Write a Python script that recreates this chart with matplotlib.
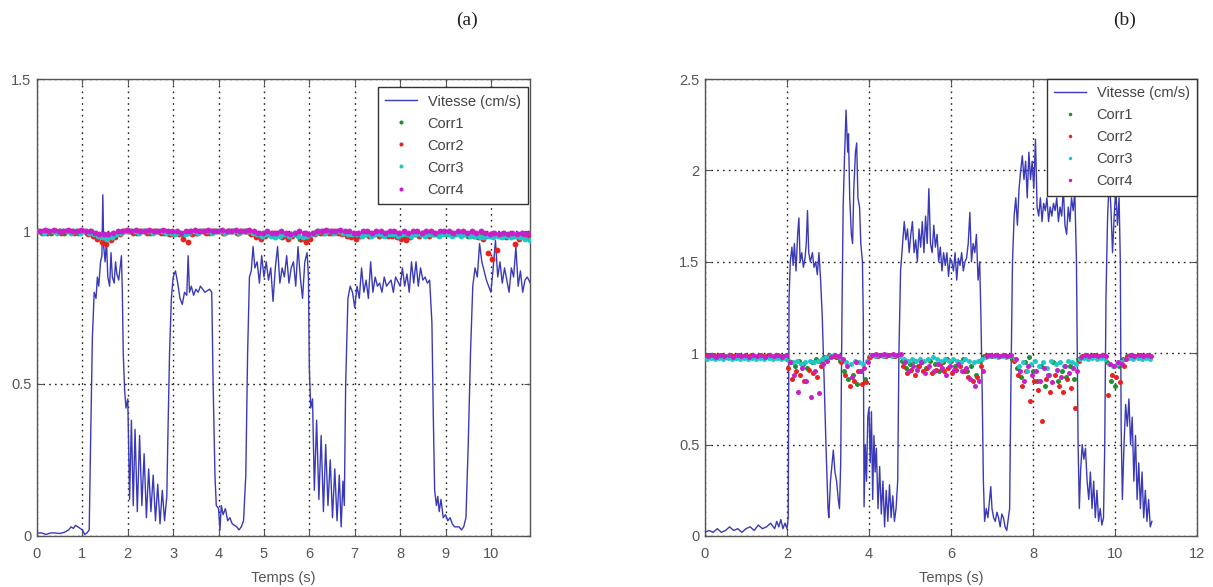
import numpy as np
import matplotlib
matplotlib.use("Agg")
import matplotlib.pyplot as plt

plt.rcParams['font.family'] = ['Liberation Sans', 'DejaVu Sans']

# ---------------- Panel (a) data ----------------
vit_a_t = [0, 0.1, 0.2, 0.3, 0.4, 0.5, 0.6, 0.7, 0.75, 0.8, 0.85, 0.9, 0.95, 1.0, 1.05, 1.1, 1.15,
           1.18, 1.22, 1.26, 1.3, 1.33, 1.36, 1.4, 1.43, 1.45, 1.47, 1.5, 1.53, 1.56, 1.6, 1.63, 1.66,
           1.7, 1.73, 1.76, 1.8, 1.83, 1.86, 1.88, 1.9, 1.93, 1.96,
           2.0, 2.04, 2.08, 2.12, 2.16, 2.21, 2.26, 2.31, 2.36, 2.41, 2.46, 2.51, 2.56, 2.61, 2.66,
           2.71, 2.76, 2.81, 2.86,
           2.88, 2.92, 2.96, 3.0, 3.05, 3.1, 3.15, 3.2, 3.25, 3.3, 3.33, 3.36, 3.4, 3.45, 3.5, 3.55,
           3.6, 3.7, 3.8, 3.85,
           3.88, 3.92, 3.95, 4.0, 4.03, 4.06, 4.1, 4.15, 4.2, 4.25, 4.3, 4.4, 4.45, 4.5, 4.55,
           4.6, 4.64, 4.68, 4.72, 4.76, 4.8, 4.85, 4.9, 4.95, 5.0, 5.05, 5.1, 5.15, 5.2, 5.25, 5.3,
           5.35, 5.4, 5.45, 5.5, 5.55, 5.6, 5.65, 5.7, 5.75, 5.8, 5.85, 5.9, 5.95, 5.98,
           6.0, 6.03, 6.07, 6.11, 6.16, 6.21, 6.26, 6.31, 6.36, 6.41, 6.46, 6.51, 6.56, 6.61, 6.66,
           6.7, 6.74, 6.77,
           6.8, 6.85, 6.9, 6.95, 7.0, 7.05, 7.1, 7.15, 7.2, 7.25, 7.3, 7.35, 7.4, 7.45, 7.5, 7.55,
           7.6, 7.65, 7.7, 7.8, 7.85, 7.9, 8.0, 8.05, 8.1, 8.15, 8.2, 8.25, 8.3, 8.35, 8.4, 8.45,
           8.5, 8.55, 8.6, 8.65,
           8.7, 8.73, 8.76, 8.8, 8.83, 8.86, 8.9, 8.95, 9.0, 9.05, 9.1, 9.15, 9.2, 9.3, 9.35, 9.4, 9.45,
           9.5, 9.55, 9.6, 9.65, 9.7, 9.75, 9.8, 9.85, 9.9, 9.95, 10.0, 10.05, 10.1, 10.15, 10.2,
           10.25, 10.3, 10.35, 10.4, 10.45, 10.5, 10.55, 10.6, 10.65, 10.7, 10.75, 10.8, 10.87]
vit_a_v = [0.01, 0.01, 0.005, 0.01, 0.01, 0.008, 0.012, 0.02, 0.03, 0.025, 0.035, 0.03, 0.025, 0.02, 0.005, 0.01, 0.02,
           0.3, 0.65, 0.8, 0.78, 0.85, 0.82, 0.9, 0.92, 1.12, 0.95, 0.9, 0.97, 0.85, 0.82, 0.93, 0.85,
           0.83, 0.9, 0.86, 0.84, 0.88, 0.92, 0.8, 0.6, 0.48, 0.42,
           0.45, 0.12, 0.38, 0.1, 0.35, 0.08, 0.33, 0.1, 0.27, 0.06, 0.22, 0.08, 0.2, 0.05, 0.17,
           0.04, 0.15, 0.05, 0.13,
           0.3, 0.6, 0.78, 0.85, 0.87, 0.83, 0.78, 0.76, 0.8, 0.79, 0.92, 0.8, 0.82, 0.79, 0.81, 0.8,
           0.82, 0.8, 0.81, 0.8,
           0.5, 0.2, 0.1, 0.09, 0.02, 0.1, 0.07, 0.09, 0.05, 0.06, 0.04, 0.03, 0.02, 0.03, 0.05,
           0.2, 0.6, 0.85, 0.87, 0.95, 0.88, 0.9, 0.83, 0.92, 0.85, 0.9, 0.84, 0.88, 0.77, 0.88, 0.95,
           0.83, 0.88, 0.85, 0.92, 0.83, 0.88, 0.9, 0.82, 0.95, 0.85, 0.78, 0.9, 0.93, 0.85,
           0.55, 0.42, 0.45, 0.15, 0.38, 0.12, 0.33, 0.08, 0.3, 0.1, 0.25, 0.06, 0.22, 0.05, 0.2,
           0.03, 0.18, 0.1,
           0.5, 0.78, 0.82, 0.8, 0.75, 0.82, 0.78, 0.88, 0.8, 0.84, 0.78, 0.9, 0.8, 0.85, 0.82, 0.83,
           0.8, 0.85, 0.82, 0.84, 0.8, 0.85, 0.82, 0.88, 0.82, 0.86, 0.8, 0.9, 0.83, 0.9, 0.82, 0.88,
           0.84, 0.85, 0.83, 0.84,
           0.7, 0.4, 0.15, 0.1, 0.13, 0.08, 0.12, 0.06, 0.07, 0.05, 0.06, 0.04, 0.03, 0.03, 0.02, 0.03, 0.06,
           0.3, 0.6, 0.82, 0.88, 0.85, 0.96, 0.9, 0.87, 0.84, 0.82, 0.8, 0.88, 0.97, 0.85, 0.9,
           0.83, 0.88, 0.84, 0.8, 0.88, 0.85, 0.95, 0.82, 0.87, 0.8, 0.84, 0.85, 0.83]

corr_a_t = np.arange(0, 10.85, 0.1)   # sampling grid, 109 samples
corr1_a = [1.00, 0.995, 1.00, 0.995, 1.00, 1.00, 0.995, 1.00, 1.00, 0.995,
           1.00, 0.995, 1.00, 0.99, 0.985, 0.98, 0.985, 0.99, 0.995, 1.00,
           1.00, 1.00, 0.995, 1.00, 1.00, 0.995, 1.00, 1.00, 0.995, 0.99,
           0.99, 0.995, 0.99, 0.995, 1.00, 0.995, 1.00, 1.00, 0.995, 1.00,
           1.00, 0.995, 1.00, 1.00, 0.995, 1.00, 1.00, 0.995, 0.99, 0.99,
           0.995, 0.99, 0.99, 0.995, 0.98, 0.985, 0.99, 0.99, 0.975, 0.975,
           0.985, 0.995, 1.00, 0.995, 1.00, 0.995, 1.00, 0.995, 0.99, 0.99,
           0.985, 0.99, 0.995, 0.99, 0.99, 0.995, 0.99, 0.995, 0.99, 0.995,
           0.99, 0.985, 0.99, 0.995, 0.99, 0.995, 0.99, 0.995, 0.99, 0.995,
           0.99, 0.995, 0.99, 0.995, 0.99, 0.985, 0.99, 0.985, 0.99, 0.985,
           0.985, 0.99, 0.985, 0.99, 0.99, 0.985, 0.99, 0.985, 0.99]
corr2_a = [1.00, 1.00, 0.995, 1.00, 1.00, 0.995, 1.00, 1.00, 0.995, 1.00,
           1.00, 0.99, 0.985, 0.975, 0.965, 0.96, 0.97, 0.98, 0.99, 1.00,
           1.00, 0.995, 1.00, 1.00, 0.995, 1.00, 1.00, 0.995, 1.00, 0.99,
           0.995, 0.99, 0.975, 0.965, 0.99, 0.995, 1.00, 0.995, 1.00, 1.00,
           1.00, 0.995, 1.00, 1.00, 0.995, 1.00, 1.00, 0.99, 0.98, 0.975,
           0.985, 0.99, 0.995, 0.99, 0.985, 0.975, 0.985, 0.99, 0.975, 0.965,
           0.975, 0.99, 0.995, 1.00, 0.995, 1.00, 0.995, 0.99, 0.985, 0.98,
           0.975, 0.985, 0.99, 0.985, 0.99, 0.985, 0.99, 0.985, 0.985, 0.98,
           0.975, 0.97, 0.98, 0.99, 0.985, 0.99, 0.985, 0.99, 0.99, 0.995,
           0.995, 0.99, 0.995, 0.99, 0.995, 0.99, 0.985, 0.98, 0.975, 0.93,
           0.91, 0.94, 0.985, 0.98, 0.985, 0.96, 0.975, 0.99, 0.985]
corr3_a = [1.00, 0.995, 1.00, 1.00, 0.995, 1.00, 1.00, 0.995, 1.00, 0.995,
           1.00, 0.995, 0.99, 0.985, 0.98, 0.975, 0.98, 0.99, 0.995, 1.00,
           1.00, 1.00, 0.995, 1.00, 1.00, 0.995, 1.00, 1.00, 0.995, 0.995,
           0.99, 0.995, 0.99, 0.995, 1.00, 0.995, 1.00, 1.00, 0.995, 1.00,
           1.00, 0.995, 1.00, 1.00, 0.995, 1.00, 1.00, 0.995, 0.99, 0.985,
           0.99, 0.985, 0.98, 0.985, 0.99, 0.985, 0.99, 0.985, 0.98, 0.985,
           0.99, 0.995, 1.00, 0.995, 1.00, 0.995, 1.00, 0.995, 0.99, 0.99,
           0.99, 0.985, 0.99, 0.985, 0.99, 0.99, 0.985, 0.99, 0.99, 0.985,
           0.99, 0.99, 0.985, 0.99, 0.99, 0.985, 0.99, 0.99, 0.985, 0.99,
           0.99, 0.985, 0.99, 0.985, 0.99, 0.985, 0.985, 0.98, 0.98, 0.985,
           0.98, 0.985, 0.98, 0.985, 0.98, 0.985, 0.98, 0.975, 0.97]
corr4_a = [1.00, 1.005, 1.00, 1.005, 1.00, 1.00, 1.005, 1.00, 1.00, 1.005,
           1.00, 1.00, 0.995, 0.99, 0.99, 0.99, 0.995, 1.00, 1.00, 1.005,
           1.00, 1.005, 1.00, 1.00, 1.005, 1.00, 1.00, 1.005, 1.00, 1.00,
           1.00, 0.995, 1.00, 1.00, 1.005, 1.00, 1.00, 1.005, 1.00, 1.00,
           1.005, 1.00, 1.00, 1.005, 1.00, 1.00, 1.005, 1.00, 0.995, 0.995,
           1.00, 0.995, 0.995, 1.00, 0.995, 0.99, 0.995, 1.00, 0.995, 0.99,
           0.995, 1.00, 1.00, 1.005, 1.00, 1.00, 1.005, 1.00, 1.00, 0.995,
           0.995, 1.00, 1.00, 0.995, 1.00, 1.00, 0.995, 1.00, 1.00, 0.995,
           1.00, 0.995, 1.00, 1.00, 0.995, 1.00, 1.00, 0.995, 1.00, 1.00,
           1.00, 0.995, 1.00, 1.00, 0.995, 1.00, 0.995, 1.00, 0.995, 0.99,
           0.995, 0.99, 0.995, 0.99, 0.995, 0.99, 0.995, 0.99, 0.995]

# ---------------- Panel (b) data ----------------
vit_b_t = [0, 0.1, 0.2, 0.3, 0.4, 0.5, 0.6, 0.7, 0.8, 0.9, 1.0, 1.1, 1.2, 1.3, 1.4, 1.5, 1.6, 1.7,
           1.75, 1.8, 1.85, 1.9, 1.95, 2.0, 2.03, 2.05, 2.08, 2.12, 2.15, 2.18, 2.22, 2.26, 2.29,
           2.32, 2.36, 2.4, 2.44, 2.47, 2.5, 2.53, 2.57, 2.62, 2.66, 2.7, 2.74, 2.78, 2.82, 2.86,
           2.9, 2.95, 3.0, 3.02, 3.06, 3.1, 3.13, 3.17, 3.21, 3.25, 3.28, 3.31, 3.34, 3.37, 3.4,
           3.44, 3.48, 3.5, 3.53, 3.57, 3.6, 3.63, 3.67, 3.7, 3.73, 3.77, 3.8, 3.84, 3.86, 3.88,
           3.91, 3.94, 3.97, 4.0, 4.03, 4.06, 4.09, 4.12, 4.15, 4.18, 4.22, 4.26, 4.3, 4.34, 4.38,
           4.42, 4.46, 4.5, 4.54, 4.58, 4.62, 4.66, 4.7, 4.73, 4.77, 4.82, 4.86, 4.9, 4.94, 4.98,
           5.02, 5.06, 5.1, 5.14, 5.18, 5.22, 5.26, 5.3, 5.34, 5.38, 5.42, 5.46, 5.5, 5.54, 5.58,
           5.62, 5.66, 5.7, 5.74, 5.78, 5.82, 5.86, 5.9, 5.94, 5.98, 6.02, 6.06, 6.1, 6.14, 6.18,
           6.22, 6.26, 6.3, 6.34, 6.38, 6.42, 6.46, 6.5, 6.54, 6.58, 6.62, 6.66, 6.7, 6.73, 6.76,
           6.79, 6.82, 6.86, 6.9, 6.94, 6.97, 7.0, 7.04, 7.08, 7.12, 7.16, 7.2, 7.24, 7.28, 7.32,
           7.36, 7.4, 7.43, 7.46, 7.5, 7.54, 7.58, 7.62, 7.66, 7.7, 7.74, 7.78, 7.82, 7.86, 7.9,
           7.94, 7.98, 8.02, 8.06, 8.1, 8.14, 8.18, 8.22, 8.26, 8.3, 8.34, 8.38, 8.42, 8.46, 8.5,
           8.54, 8.58, 8.62, 8.66, 8.7, 8.74, 8.78, 8.82, 8.86, 8.9, 8.94, 8.98, 9.02, 9.06, 9.08,
           9.1, 9.13, 9.16, 9.2, 9.24, 9.28, 9.32, 9.36, 9.4, 9.44, 9.48, 9.52, 9.56, 9.6, 9.64,
           9.68, 9.72, 9.75, 9.78, 9.82, 9.86, 9.9, 9.94, 9.98, 10.02, 10.06, 10.1, 10.13, 10.15,
           10.18, 10.22, 10.26, 10.3, 10.34, 10.38, 10.42, 10.46, 10.5, 10.54, 10.58, 10.62, 10.66,
           10.7, 10.74, 10.78, 10.82, 10.86, 10.9]
vit_b_v = [0.02, 0.03, 0.02, 0.04, 0.02, 0.03, 0.05, 0.03, 0.04, 0.02, 0.04, 0.05, 0.03, 0.06, 0.04, 0.05, 0.07, 0.04,
           0.08, 0.05, 0.09, 0.04, 0.07, 0.04, 0.1, 1.3, 1.5, 1.58, 1.48, 1.6, 1.45, 1.65, 1.74,
           1.5, 1.55, 1.47, 1.52, 1.6, 1.78, 1.55, 1.5, 1.55, 1.47, 1.5, 1.43, 1.55, 1.4, 1.2,
           0.9, 0.5, 0.15, 0.1, 0.3, 0.4, 0.47, 0.35, 0.3, 0.2, 0.15, 0.4, 1.2, 1.8, 2.05,
           2.33, 2.1, 2.2, 1.85, 1.65, 1.6, 1.9, 2.1, 2.15, 1.85, 1.8, 1.6, 1.5, 1.2, 0.16,
           0.5, 0.3, 0.65, 0.7, 0.4, 0.68, 0.2, 0.55, 0.35, 0.48, 0.15, 0.38, 0.12, 0.3, 0.05,
           0.25, 0.08, 0.28, 0.1, 0.22, 0.08, 0.15, 0.3, 1.0, 1.45, 1.6, 1.72, 1.62, 1.68, 1.55,
           1.65, 1.72, 1.55, 1.62, 1.5, 1.68, 1.58, 1.72, 1.55, 1.75, 1.6, 1.9, 1.6, 1.55, 1.7,
           1.58, 1.65, 1.5, 1.58, 1.45, 1.55, 1.48, 1.55, 1.42, 1.52, 1.5, 1.45, 1.55, 1.4, 1.52,
           1.48, 1.55, 1.45, 1.5, 1.52, 1.6, 1.77, 1.5, 1.6, 1.55, 1.65, 1.4, 1.5, 1.2, 0.8,
           0.3, 0.08, 0.15, 0.1, 0.2, 0.27, 0.15, 0.1, 0.08, 0.13, 0.1, 0.05, 0.12, 0.1, 0.05,
           0.03, 0.1, 0.15, 0.8, 1.5, 1.75, 1.85, 1.7, 1.9, 2.0, 2.08, 1.95, 2.05, 1.85, 2.1,
           1.95, 2.05, 1.9, 2.17, 1.8, 1.75, 1.85, 1.72, 1.82, 1.78, 1.85, 1.72, 1.8, 1.75, 1.82,
           1.78, 1.85, 1.72, 1.8, 1.75, 1.9, 1.7, 1.65, 1.8, 1.72, 1.85, 1.78, 1.88, 1.5, 1.0,
           0.5, 0.15, 0.35, 0.5, 0.42, 0.48, 0.3, 0.2, 0.35, 0.15, 0.3, 0.1, 0.25, 0.08, 0.15,
           0.06, 0.1, 0.5, 1.3, 1.75, 1.95, 1.8, 1.55, 1.75, 1.9, 1.7, 1.85, 1.5, 0.6,
           0.2, 0.5, 0.72, 0.6, 0.75, 0.5, 0.65, 0.3, 0.55, 0.2, 0.4, 0.15, 0.35,
           0.1, 0.25, 0.08, 0.2, 0.05, 0.08]

corr_b_t = np.arange(0, 10.85, 0.1)   # sampling grid, 109 samples
corr1_b = [0.98, 0.985, 0.98, 0.985, 0.98, 0.985, 0.98, 0.985, 0.98, 0.985,
           0.98, 0.985, 0.98, 0.985, 0.98, 0.985, 0.98, 0.985, 0.98, 0.985,
           0.97, 0.95, 0.93, 0.96, 0.94, 0.92, 0.95, 0.97, 0.96, 0.98,
           0.98, 0.985, 0.98, 0.96, 0.90, 0.86, 0.88, 0.83, 0.90, 0.86,
           0.98, 0.99, 0.985, 0.99, 0.985, 0.99, 0.985, 0.99, 0.96, 0.92,
           0.94, 0.96, 0.93, 0.95, 0.92, 0.96, 0.94, 0.90, 0.95, 0.97,
           0.96, 0.93, 0.95, 0.97, 0.90, 0.93, 0.88, 0.96, 0.985, 0.99,
           0.985, 0.99, 0.985, 0.99, 0.985, 0.97, 0.92, 0.87, 0.95, 0.98,
           0.90, 0.85, 0.93, 0.82, 0.88, 0.95, 0.85, 0.90, 0.87, 0.93,
           0.86, 0.97, 0.985, 0.99, 0.985, 0.99, 0.985, 0.99, 0.95, 0.85,
           0.82, 0.93, 0.97, 0.985, 0.99, 0.985, 0.99, 0.985, 0.99]
corr2_b = [0.99, 0.98, 0.99, 0.985, 0.99, 0.98, 0.99, 0.985, 0.99, 0.98,
           0.985, 0.99, 0.98, 0.99, 0.985, 0.99, 0.98, 0.99, 0.985, 0.98,
           0.92, 0.86, 0.90, 0.88, 0.85, 0.91, 0.89, 0.87, 0.93, 0.97,
           0.99, 0.985, 0.98, 0.95, 0.88, 0.82, 0.85, 0.90, 0.83, 0.84,
           0.98, 0.99, 0.985, 0.99, 0.985, 0.99, 0.985, 0.99, 0.93, 0.89,
           0.91, 0.88, 0.93, 0.90, 0.92, 0.89, 0.91, 0.94, 0.90, 0.92,
           0.89, 0.91, 0.93, 0.90, 0.87, 0.85, 0.87, 0.93, 0.985, 0.99,
           0.985, 0.99, 0.985, 0.99, 0.985, 0.96, 0.88, 0.82, 0.90, 0.74,
           0.85, 0.80, 0.63, 0.86, 0.79, 0.88, 0.82, 0.79, 0.86, 0.81,
           0.70, 0.96, 0.985, 0.99, 0.985, 0.99, 0.985, 0.99, 0.77, 0.88,
           0.87, 0.84, 0.93, 0.985, 0.99, 0.985, 0.99, 0.985, 0.99]
corr3_b = [0.97, 0.975, 0.97, 0.975, 0.97, 0.975, 0.97, 0.975, 0.97, 0.975,
           0.97, 0.975, 0.97, 0.975, 0.97, 0.975, 0.97, 0.975, 0.97, 0.975,
           0.96, 0.95, 0.96, 0.94, 0.95, 0.96, 0.95, 0.96, 0.97, 0.98,
           0.985, 0.99, 0.985, 0.97, 0.95, 0.94, 0.96, 0.95, 0.94, 0.96,
           0.99, 0.985, 0.99, 0.985, 0.99, 0.985, 0.99, 0.985, 0.97, 0.96,
           0.97, 0.96, 0.97, 0.96, 0.97, 0.98, 0.97, 0.96, 0.97, 0.96,
           0.97, 0.96, 0.95, 0.97, 0.96, 0.95, 0.96, 0.97, 0.98, 0.985,
           0.985, 0.98, 0.985, 0.98, 0.985, 0.97, 0.93, 0.95, 0.90, 0.94,
           0.96, 0.93, 0.95, 0.92, 0.96, 0.94, 0.95, 0.93, 0.96, 0.95,
           0.94, 0.97, 0.975, 0.97, 0.975, 0.97, 0.975, 0.97, 0.94, 0.93,
           0.94, 0.95, 0.97, 0.975, 0.97, 0.975, 0.97, 0.975, 0.97]
corr4_b = [0.985, 0.99, 0.98, 0.99, 0.985, 0.99, 0.98, 0.99, 0.985, 0.99,
           0.98, 0.99, 0.985, 0.99, 0.98, 0.99, 0.985, 0.99, 0.98, 0.99,
           0.95, 0.88, 0.79, 0.92, 0.85, 0.76, 0.90, 0.78, 0.94, 0.96,
           0.98, 0.99, 0.985, 0.97, 0.93, 0.87, 0.95, 0.90, 0.92, 0.95,
           0.99, 0.995, 0.99, 0.995, 0.99, 0.995, 0.99, 0.995, 0.95, 0.90,
           0.93, 0.91, 0.95, 0.89, 0.93, 0.90, 0.94, 0.92, 0.88, 0.93,
           0.91, 0.94, 0.90, 0.92, 0.86, 0.82, 0.85, 0.90, 0.985, 0.99,
           0.99, 0.985, 0.99, 0.985, 0.99, 0.97, 0.90, 0.85, 0.93, 0.88,
           0.90, 0.85, 0.92, 0.88, 0.84, 0.91, 0.87, 0.93, 0.89, 0.92,
           0.90, 0.98, 0.99, 0.985, 0.99, 0.985, 0.99, 0.985, 0.94, 0.93,
           0.95, 0.94, 0.97, 0.99, 0.985, 0.99, 0.985, 0.99, 0.985]

series_labels = ['Vitesse (cm/s)', 'Corr1', 'Corr2', 'Corr3', 'Corr4']
corr_colors = ['#1f8f2f', '#e8231f', '#1fc8c8', '#c81fc8']
corr_offsets = [0.0, 0.025, 0.05, 0.075]
line_color = '#3a3ab8'

fig = plt.figure(figsize=(12.13, 5.87), dpi=100)
ax_a = fig.add_axes([0.0305, 0.0869, 0.4064, 0.7785])
ax_b = fig.add_axes([0.5812, 0.0869, 0.4056, 0.7785])


def style_axes(ax, xlim, ylim, xticks, yticks, ytl):
    ax.set_xlim(*xlim)
    ax.set_ylim(*ylim)
    ax.set_xticks(xticks)
    ax.set_yticks(yticks)
    ax.set_yticklabels(ytl)
    ax.grid(True, color='#222222', linestyle=(0, (1.2, 3.0)), linewidth=1.0)
    ax.set_axisbelow(True)
    ax.tick_params(direction='in', top=True, right=True, length=4, width=0.8,
                   colors='#555555', labelsize=10.5, labelcolor='#555555')
    ax.tick_params(axis='x', pad=8)
    ax.tick_params(axis='y', pad=4)
    for s in ax.spines.values():
        s.set_color('#555555')
        s.set_linewidth(1.0)
    ax.set_xlabel('Temps (s)', fontsize=10.5, color='#555555', labelpad=7)


def draw(ax, vt, vv, ct, corrs, msize):
    ax.plot(vt, vv, color=line_color, lw=1.0, label=series_labels[0], zorder=3)
    for i, (cv, col, off) in enumerate(zip(corrs, corr_colors, corr_offsets)):
        ax.plot(np.asarray(ct[:len(cv)]) + off, cv, linestyle='none', marker='o',
                markersize=msize, color=col, markeredgewidth=0,
                label=series_labels[i + 1], zorder=4 + i)


draw(ax_a, vit_a_t, vit_a_v, corr_a_t, [corr1_a, corr2_a, corr3_a, corr4_a], 4.2)
draw(ax_b, vit_b_t, vit_b_v, corr_b_t, [corr1_b, corr2_b, corr3_b, corr4_b], 3.6)

style_axes(ax_a, (0, 10.86), (0, 1.5), range(0, 11), [0, 0.5, 1, 1.5], ['0', '0.5', '1', '1.5'])
style_axes(ax_b, (0, 12), (0, 2.5), range(0, 13, 2), [0, 0.5, 1, 1.5, 2, 2.5],
           ['0', '0.5', '1', '1.5', '2', '2.5'])

for ax, anchor in [(ax_a, (0.996, 0.982)), (ax_b, (1.0, 1.0))]:
    leg = ax.legend(loc='upper right', bbox_to_anchor=anchor, fontsize=10.5,
                    frameon=True, fancybox=False, framealpha=1, edgecolor='#333333',
                    handlelength=2.2, handletextpad=0.7, labelspacing=0.55,
                    borderpad=0.5, borderaxespad=0.0, markerscale=0.7)
    leg.get_frame().set_linewidth(1.0)
    for t in leg.get_texts():
        t.set_color('#444444')

fig.text(467 / 1213, 1 - 20 / 587, '(a)', ha='center', va='center', fontsize=14,
         family=['Liberation Serif', 'DejaVu Serif'], color='#222222')
fig.text(1125 / 1213, 1 - 20 / 587, '(b)', ha='center', va='center', fontsize=14,
         family=['Liberation Serif', 'DejaVu Serif'], color='#222222')

fig.savefig('out.png', dpi=100)
